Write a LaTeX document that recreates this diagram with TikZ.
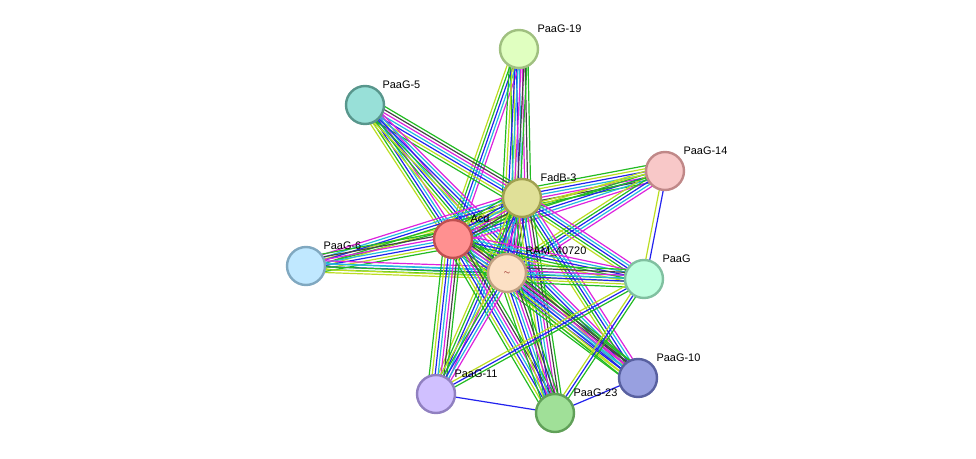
\documentclass[tikz,border=0pt]{standalone}
\usepackage{fontspec}
\setmainfont{Liberation Sans}
\usetikzlibrary{calc}
\pgfdeclarelayer{bg}\pgfsetlayers{bg,main}
\definecolor{grn}{HTML}{22BB22}
\definecolor{blu}{HTML}{2222EE}
\definecolor{cya}{HTML}{22BBDD}
\definecolor{mag}{HTML}{DD22DD}
\definecolor{blk}{HTML}{444444}
\definecolor{lim}{HTML}{BBDD22}
\definecolor{lbl}{HTML}{9999FF}
\def\F{grn/-6.6,lim/-4.4,blu/-2.2,cya/0,mag/2.2,blk/4.4,grn/6.6}
\def\G{lim/-4.4,grn/-2.2,blu/0,cya/2.2,mag/4.4}
\newcommand\edg[3]{\foreach \c/\o in #3 {\draw[\c,line width=0.9pt] ($(#1)!\o pt!90:(#2)$) -- ($(#2)!\o pt!-90:(#1)$);}}
\tikzset{prot/.style={circle,minimum size=28.5pt,line width=1.8pt,inner sep=0pt},
lab/.style={font=\fontsize{8.2pt}{9pt}\selectfont,anchor=south west,inner sep=1pt}}
\begin{document}
\begin{tikzpicture}[x=0.75pt,y=-0.75pt]
\useasboundingbox (0,0) rectangle (976,459);
\node[prot,fill={rgb,255:red,224;green,255;blue,192},draw={rgb,255:red,160;green,192;blue,128}] (p19) at (519,49) {};
\node[prot,fill={rgb,255:red,152;green,224;blue,216},draw={rgb,255:red,88;green,150;blue,140}] (p5) at (365,105) {};
\node[prot,fill={rgb,255:red,248;green,200;blue,200},draw={rgb,255:red,192;green,136;blue,136}] (p14) at (665,171) {};
\node[prot,fill={rgb,255:red,224;green,224;blue,152},draw={rgb,255:red,160;green,160;blue,80}] (fad) at (522,198) {};
\node[prot,fill={rgb,255:red,255;green,144;blue,144},draw={rgb,255:red,192;green,80;blue,80}] (acd) at (453,239) {};
\node[prot,fill={rgb,255:red,192;green,232;blue,255},draw={rgb,255:red,128;green,168;blue,192}] (p6) at (306,266) {};
\node[prot,fill={rgb,255:red,252;green,224;blue,196},draw={rgb,255:red,192;green,160;blue,128}] (ram) at (507,273) {\textcolor{red!50!black}{\tiny$\sim$}};
\node[prot,fill={rgb,255:red,192;green,255;blue,224},draw={rgb,255:red,128;green,192;blue,160}] (pg) at (644,279) {};
\node[prot,fill={rgb,255:red,152;green,160;blue,224},draw={rgb,255:red,88;green,96;blue,160}] (p10) at (638,378) {};
\node[prot,fill={rgb,255:red,208;green,192;blue,255},draw={rgb,255:red,144;green,128;blue,192}] (p11) at (436,394) {};
\node[prot,fill={rgb,255:red,160;green,224;blue,152},draw={rgb,255:red,96;green,160;blue,88}] (p23) at (555,413) {};
\begin{pgfonlayer}{bg}
\edg{p19}{fad}{\F}\edg{p19}{acd}{\G}\edg{p19}{ram}{\F}
\edg{p5}{fad}{\F}\edg{p5}{acd}{\G}\edg{p5}{ram}{\G}\edg{p5}{p10}{\G}
\edg{p14}{fad}{\F}\edg{p14}{acd}{\G}\edg{p14}{ram}{\G}\edg{p14}{p6}{{lim/-1.5,grn/1.5}}\edg{p14}{pg}{{lim/-1.5,blu/1.5}}
\edg{p6}{fad}{\G}\edg{p6}{acd}{\F}\edg{p6}{ram}{\G}\edg{p6}{pg}{{lim/-2.2,grn/0,cya/2.2}}
\edg{fad}{acd}{\F}\edg{fad}{ram}{\F}\edg{fad}{pg}{\G}\edg{fad}{p10}{\G}\edg{fad}{p11}{\G}\edg{fad}{p23}{\F}
\edg{acd}{ram}{\F}\edg{acd}{pg}{\G}\edg{acd}{p10}{\F}\edg{acd}{p11}{\F}\edg{acd}{p23}{\F}
\edg{ram}{pg}{\F}\edg{ram}{p10}{\F}\edg{ram}{p11}{\G}\edg{ram}{p23}{\F}
\edg{pg}{p11}{{lim/-2.2,blu/0,grn/2.2}}\edg{pg}{p23}{{lim/-2.2,blu/0,grn/2.2}}
\edg{p11}{p23}{{blu/0}}\edg{p23}{p10}{{blu/0}}
\end{pgfonlayer}
\node[lab] (l19) at (536,34) {PaaG-19};
\node[lab] (l5) at (381,90) {PaaG-5};
\node[lab] (l14) at (682,156) {PaaG-14};
\node[lab] (lfad) at (539,183) {FadB-3};
\node[lab] (lacd) at (469,224) {Acd};
\node[lab] (l6) at (322,251) {PaaG-6};
\node[lab] (lram) at (524,258) {RAM\_40720};
\node[lab] (lpg) at (661,264) {PaaG};
\node[lab] (l10) at (655,363) {PaaG-10};
\node[lab] (l11) at (453,379) {PaaG-11};
\node[lab] (l23) at (572,398) {PaaG-23};
\end{tikzpicture}
\end{document}
